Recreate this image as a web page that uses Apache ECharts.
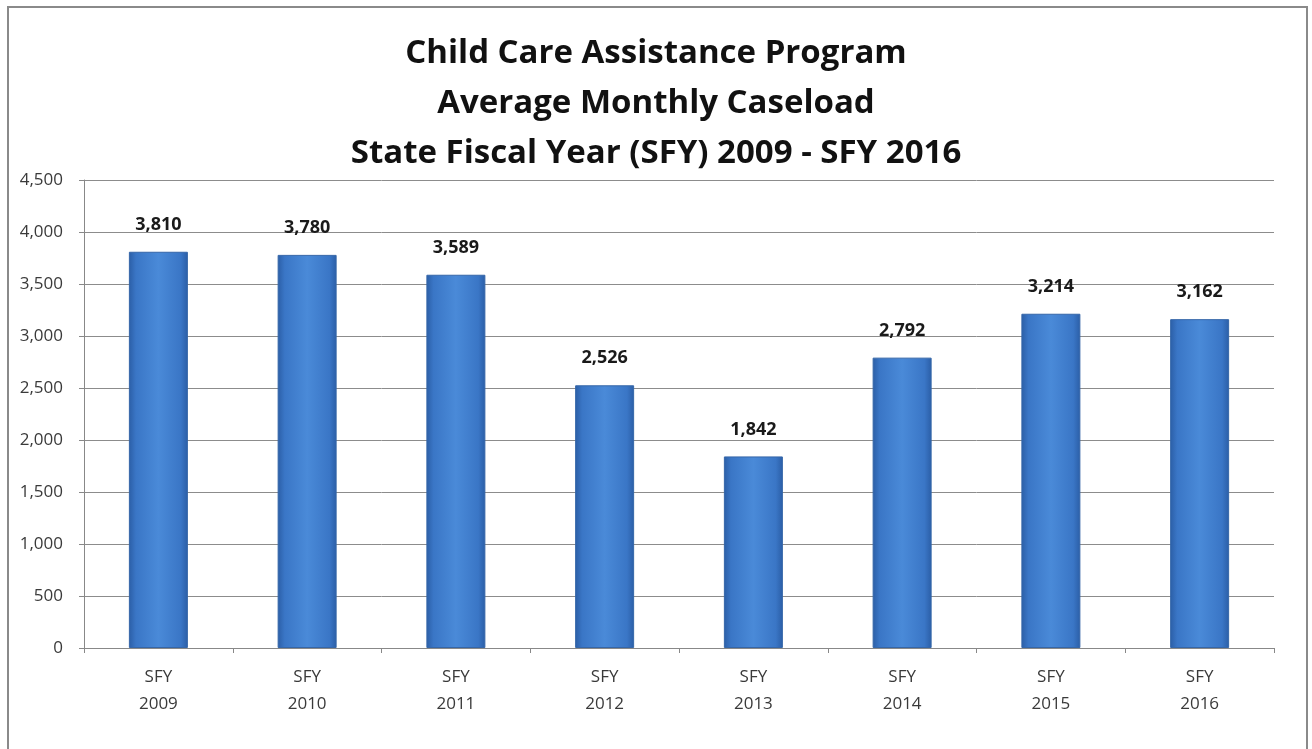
<!DOCTYPE html>
<html><head><meta charset="utf-8">
<script src="https://cdn.jsdelivr.net/npm/echarts@6/dist/echarts.min.js"></script>
<style>html,body{margin:0;padding:0;background:#fff}#c{width:1312px;height:749px}</style>
</head><body><div id="c"></div>
<script>
const categories = ['SFY\n2009','SFY\n2010','SFY\n2011','SFY\n2012','SFY\n2013','SFY\n2014','SFY\n2015','SFY\n2016'];
const caseload = [3810, 3780, 3589, 2526, 1842, 2792, 3214, 3162];
const titleLines = ['Child Care Assistance Program','Average Monthly Caseload','State Fiscal Year (SFY) 2009 - SFY 2016'];

const chart = echarts.init(document.getElementById('c'));
chart.setOption({
  animation: false,
  backgroundColor: '#fff',
  title: {
    text: titleLines.join('\n'),
    left: 'center', top: 24,
    textStyle: { fontFamily: 'Open Sans', fontWeight: 'bold', fontSize: 33, color: '#111', lineHeight: 50 }
  },
  graphic: [{ type: 'rect', shape: { x: 8, y: 7, width: 1299, height: 760 }, style: { fill: 'none', stroke: '#8a8a8a', lineWidth: 2 } }],
  grid: { left: 84, right: 38, top: 180, bottom: 101 },
  xAxis: {
    type: 'category', data: categories,
    axisLine: { lineStyle: { color: '#888', width: 1 } },
    axisTick: { show: true, length: 5, lineStyle: { color: '#888' } },
    axisLabel: { color: '#3a3a3a', fontFamily: 'Open Sans', fontSize: 17, lineHeight: 27, margin: 16 }
  },
  yAxis: {
    type: 'value', min: 0, max: 4500, interval: 500,
    axisLine: { show: true, lineStyle: { color: '#888', width: 1 } },
    axisTick: { show: true, length: 5, lineStyle: { color: '#888' } },
    splitLine: { lineStyle: { color: '#8c8c8c', width: 1 } },
    axisLabel: { color: '#3a3a3a', fontFamily: 'Open Sans', fontSize: 17, margin: 21,
      formatter: v => v.toLocaleString('en-US') }
  },
  series: [{
    type: 'bar', data: caseload, barWidth: 59,
    itemStyle: {
      color: new echarts.graphic.LinearGradient(0, 0, 1, 0, [
        { offset: 0, color: '#2b5ea6' },
        { offset: 0.12, color: '#3a76c6' },
        { offset: 0.5, color: '#4a8ad8' },
        { offset: 0.88, color: '#3a76c6' },
        { offset: 1, color: '#2b5ea6' }
      ]),
      borderColor: '#3566a8', borderWidth: 1
    },
    label: { show: true, position: 'top', distance: 18, color: '#1a1a1a', fontFamily: 'Open Sans', fontWeight: 'bold', fontSize: 18,
      formatter: p => p.value.toLocaleString('en-US') }
  }]
});
</script></body></html>
